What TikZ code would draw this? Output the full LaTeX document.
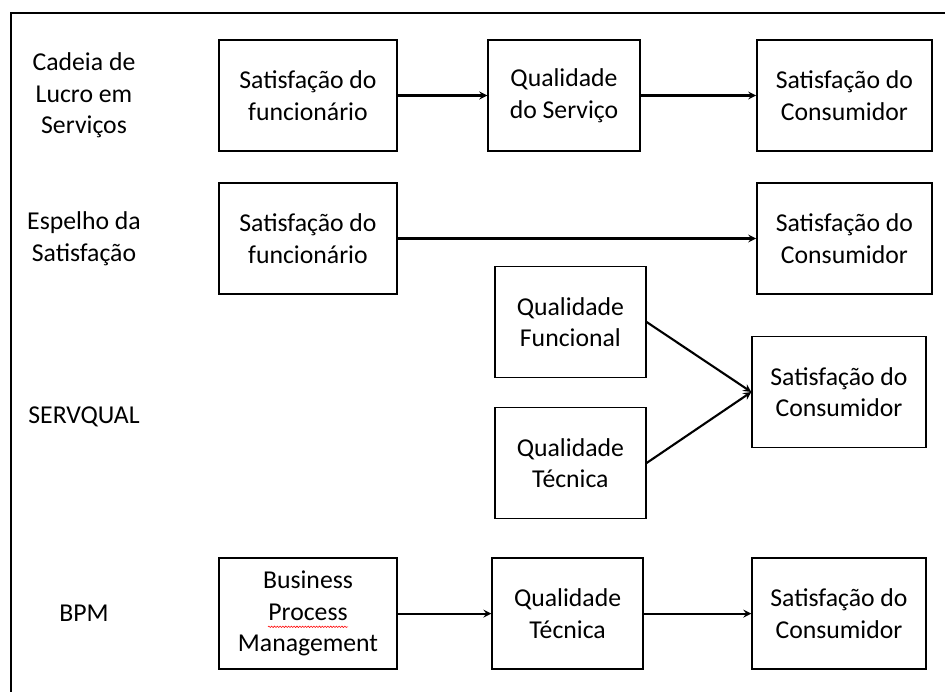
\documentclass[tikz,border=0pt]{standalone}
\usepackage{fontspec}
\setmainfont{Carlito}
\usepackage{tikz}
\usetikzlibrary{arrows,shapes,positioning,decorations.pathmorphing}
\usepackage{xcolor}
\tikzstyle{arrow} = [line width=1.5pt,->,>=stealth]
\tikzstyle{stage} = [rectangle, minimum height=2.775cm, text centered, align=center, draw=black, line width=1pt]
\tikzstyle{model} = [align=center]
\tikzstyle{spell} = [red, line width=0.4pt, decorate, decoration={snake, amplitude=0.5pt, segment length=2pt}]
\newcommand{\diagfont}{\fontsize{18.3pt}{22.4pt}\selectfont}

\begin{document}
\begin{tikzpicture}[font=\diagfont]
\useasboundingbox (0,0) rectangle (23.625,-17.3);
% Frame
\draw[line width=1.5pt] (23.625,-0.325) -- (0.275,-0.325) -- (0.275,-17.3);

% Cadeia de Lucro em Servicos
\node (cfunc) [stage, minimum width=4.45cm] at (7.70,-2.3875) {Satisfação do\\funcionário};
\node (cqual) [stage, right of=cfunc, node distance=6.4cm, minimum width=3.8cm] {Qualidade\\do Serviço};
\node (ccons) [stage, right of=cqual, node distance=7.01cm, minimum width=4.375cm] {Satisfação do\\Consumidor};
\node (lcadeia) [model, left of=cfunc, node distance=5.6cm] {Cadeia de\\Lucro em\\Serviços};

% Espelho da Satisfacao
\node (efunc) [stage, below of=cfunc, node distance=3.575cm, minimum width=4.45cm] {Satisfação do\\funcionário};
\node (econs) [stage, below of=ccons, node distance=3.575cm, minimum width=4.375cm] {Satisfação do\\Consumidor};
\node (lespelho) [model, left of=efunc, node distance=5.6cm] {Espelho da\\Satisfação};

% SERVQUAL
\node (sfunc) [stage, minimum width=3.775cm] at (14.26,-8.05) {Qualidade\\Funcional};
\node (stec) [stage, below of=sfunc, node distance=3.525cm, minimum width=3.775cm] {Qualidade\\Técnica};
\node (scons) [stage, minimum width=4.35cm] at (20.975,-9.8) {Satisfação do\\Consumidor};
\node (lservqual) [model] at (2.1,-10.425) {SERVQUAL};

% BPM
\node (bproc) [stage, below of=efunc, node distance=9.3775cm, minimum width=4.45cm] {Business\\Process\\Management};
\node (bqual) [stage, right of=bproc, node distance=6.49cm, minimum width=3.775cm] {Qualidade\\Técnica};
\node (bcons) [stage, right of=bqual, node distance=6.785cm, minimum width=4.35cm] {Satisfação do\\Consumidor};
\node (lbpm) [model, left of=bproc, node distance=5.6cm] {BPM};
% spell-check squiggle under "Process"
\draw [spell] ([xshift=-1cm,yshift=-0.33cm]bproc.center) -- ([xshift=1cm,yshift=-0.33cm]bproc.center);

% Arrows
\draw [arrow] (cfunc) -- (cqual);
\draw [arrow] (cqual) -- (ccons);
\draw [arrow] (efunc) -- (econs);
\draw [arrow] (sfunc.east) -- (scons.west);
\draw [arrow] (stec.east) -- (scons.west);
\draw [arrow] (bproc) -- (bqual);
\draw [arrow] (bqual) -- (bcons);
\end{tikzpicture}
\end{document}
